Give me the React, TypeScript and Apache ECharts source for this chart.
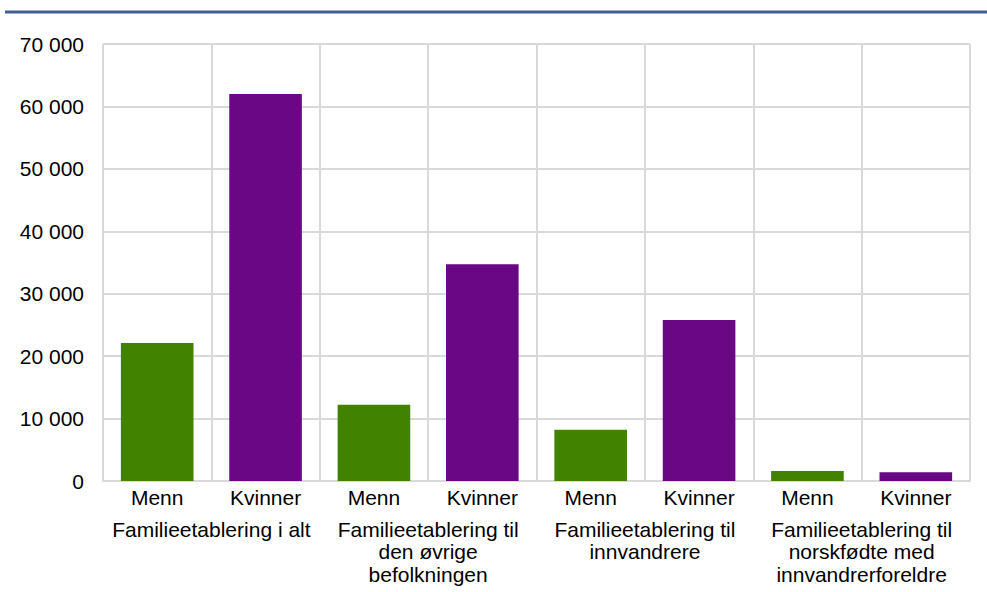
import React, { useEffect, useRef } from "react";
import * as echarts from "echarts";

const groups = [
  "Familieetablering i alt",
  "Familieetablering til\nden øvrige\nbefolkningen",
  "Familieetablering til\ninnvandrere",
  "Familieetablering til\nnorskfødte med\ninnvandrerforeldre",
];
const sexes = ["Menn", "Kvinner"];
const menn = [22100, 12200, 8200, 1600];
const kvinner = [62000, 34700, 25800, 1400];
const yMax = 70000;
const yInterval = 10000;

const GREEN = "#418200";
const PURPLE = "#6a0785";
const GRID = "#d9d9d9";
const FONT = "'Liberation Sans', Arial, sans-serif";
const FS = 21;

export default function App() {
  const ref = useRef<HTMLDivElement>(null);
  useEffect(() => {
    document.body.style.margin = "0";
    if (!ref.current) return;
    const chart = echarts.init(ref.current, undefined, { renderer: "svg" });
    const cats: string[] = [];
    const data: any[] = [];
    groups.forEach((_, i) => {
      cats.push(sexes[0]);
      data.push({ value: menn[i], itemStyle: { color: GREEN } });
      cats.push(sexes[1]);
      data.push({ value: kvinner[i], itemStyle: { color: PURPLE } });
    });
    chart.setOption({
      animation: false,
      textStyle: { fontFamily: FONT },
      graphic: [
        {
          type: "line",
          shape: { x1: 5, y1: 12, x2: 987, y2: 12 },
          style: { stroke: "#41608f", lineWidth: 3 },
        },
      ],
      grid: { left: 103, right: 17, top: 44, bottom: 111, containLabel: false },
      xAxis: [
        {
          type: "category",
          data: cats,
          position: "bottom",
          axisTick: { show: false },
          axisLine: { show: true, lineStyle: { color: GRID, width: 2 } },
          splitLine: { show: true, lineStyle: { color: GRID, width: 2 } },
          axisLabel: {
            color: "#000",
            fontSize: FS,
            fontFamily: FONT,
            margin: 6,
            interval: 0,
          },
        },
        {
          type: "category",
          data: groups,
          position: "bottom",
          axisTick: { show: false },
          axisLine: { show: false },
          splitLine: { show: false },
          axisLabel: {
            color: "#000",
            fontSize: FS,
            fontFamily: FONT,
            lineHeight: 22.5,
            margin: 37,
            interval: 0,
            align: "center",
          },
        },
      ],
      yAxis: {
        type: "value",
        min: 0,
        max: yMax,
        interval: yInterval,
        axisLine: { show: false },
        axisTick: { show: false },
        splitLine: { show: true, lineStyle: { color: GRID, width: 2 } },
        axisLabel: {
          color: "#000",
          fontSize: FS,
          fontFamily: FONT,
          margin: 19,
          formatter: (v: number) =>
            String(v).replace(/\B(?=(\d{3})+(?!\d))/g, " "),
        },
      },
      series: [
        {
          type: "bar",
          data,
          xAxisIndex: 0,
          barCategoryGap: "33%",
        },
      ],
    });
    return () => chart.dispose();
  }, []);
  return <div ref={ref} style={{ width: 987, height: 592 }} />;
}
